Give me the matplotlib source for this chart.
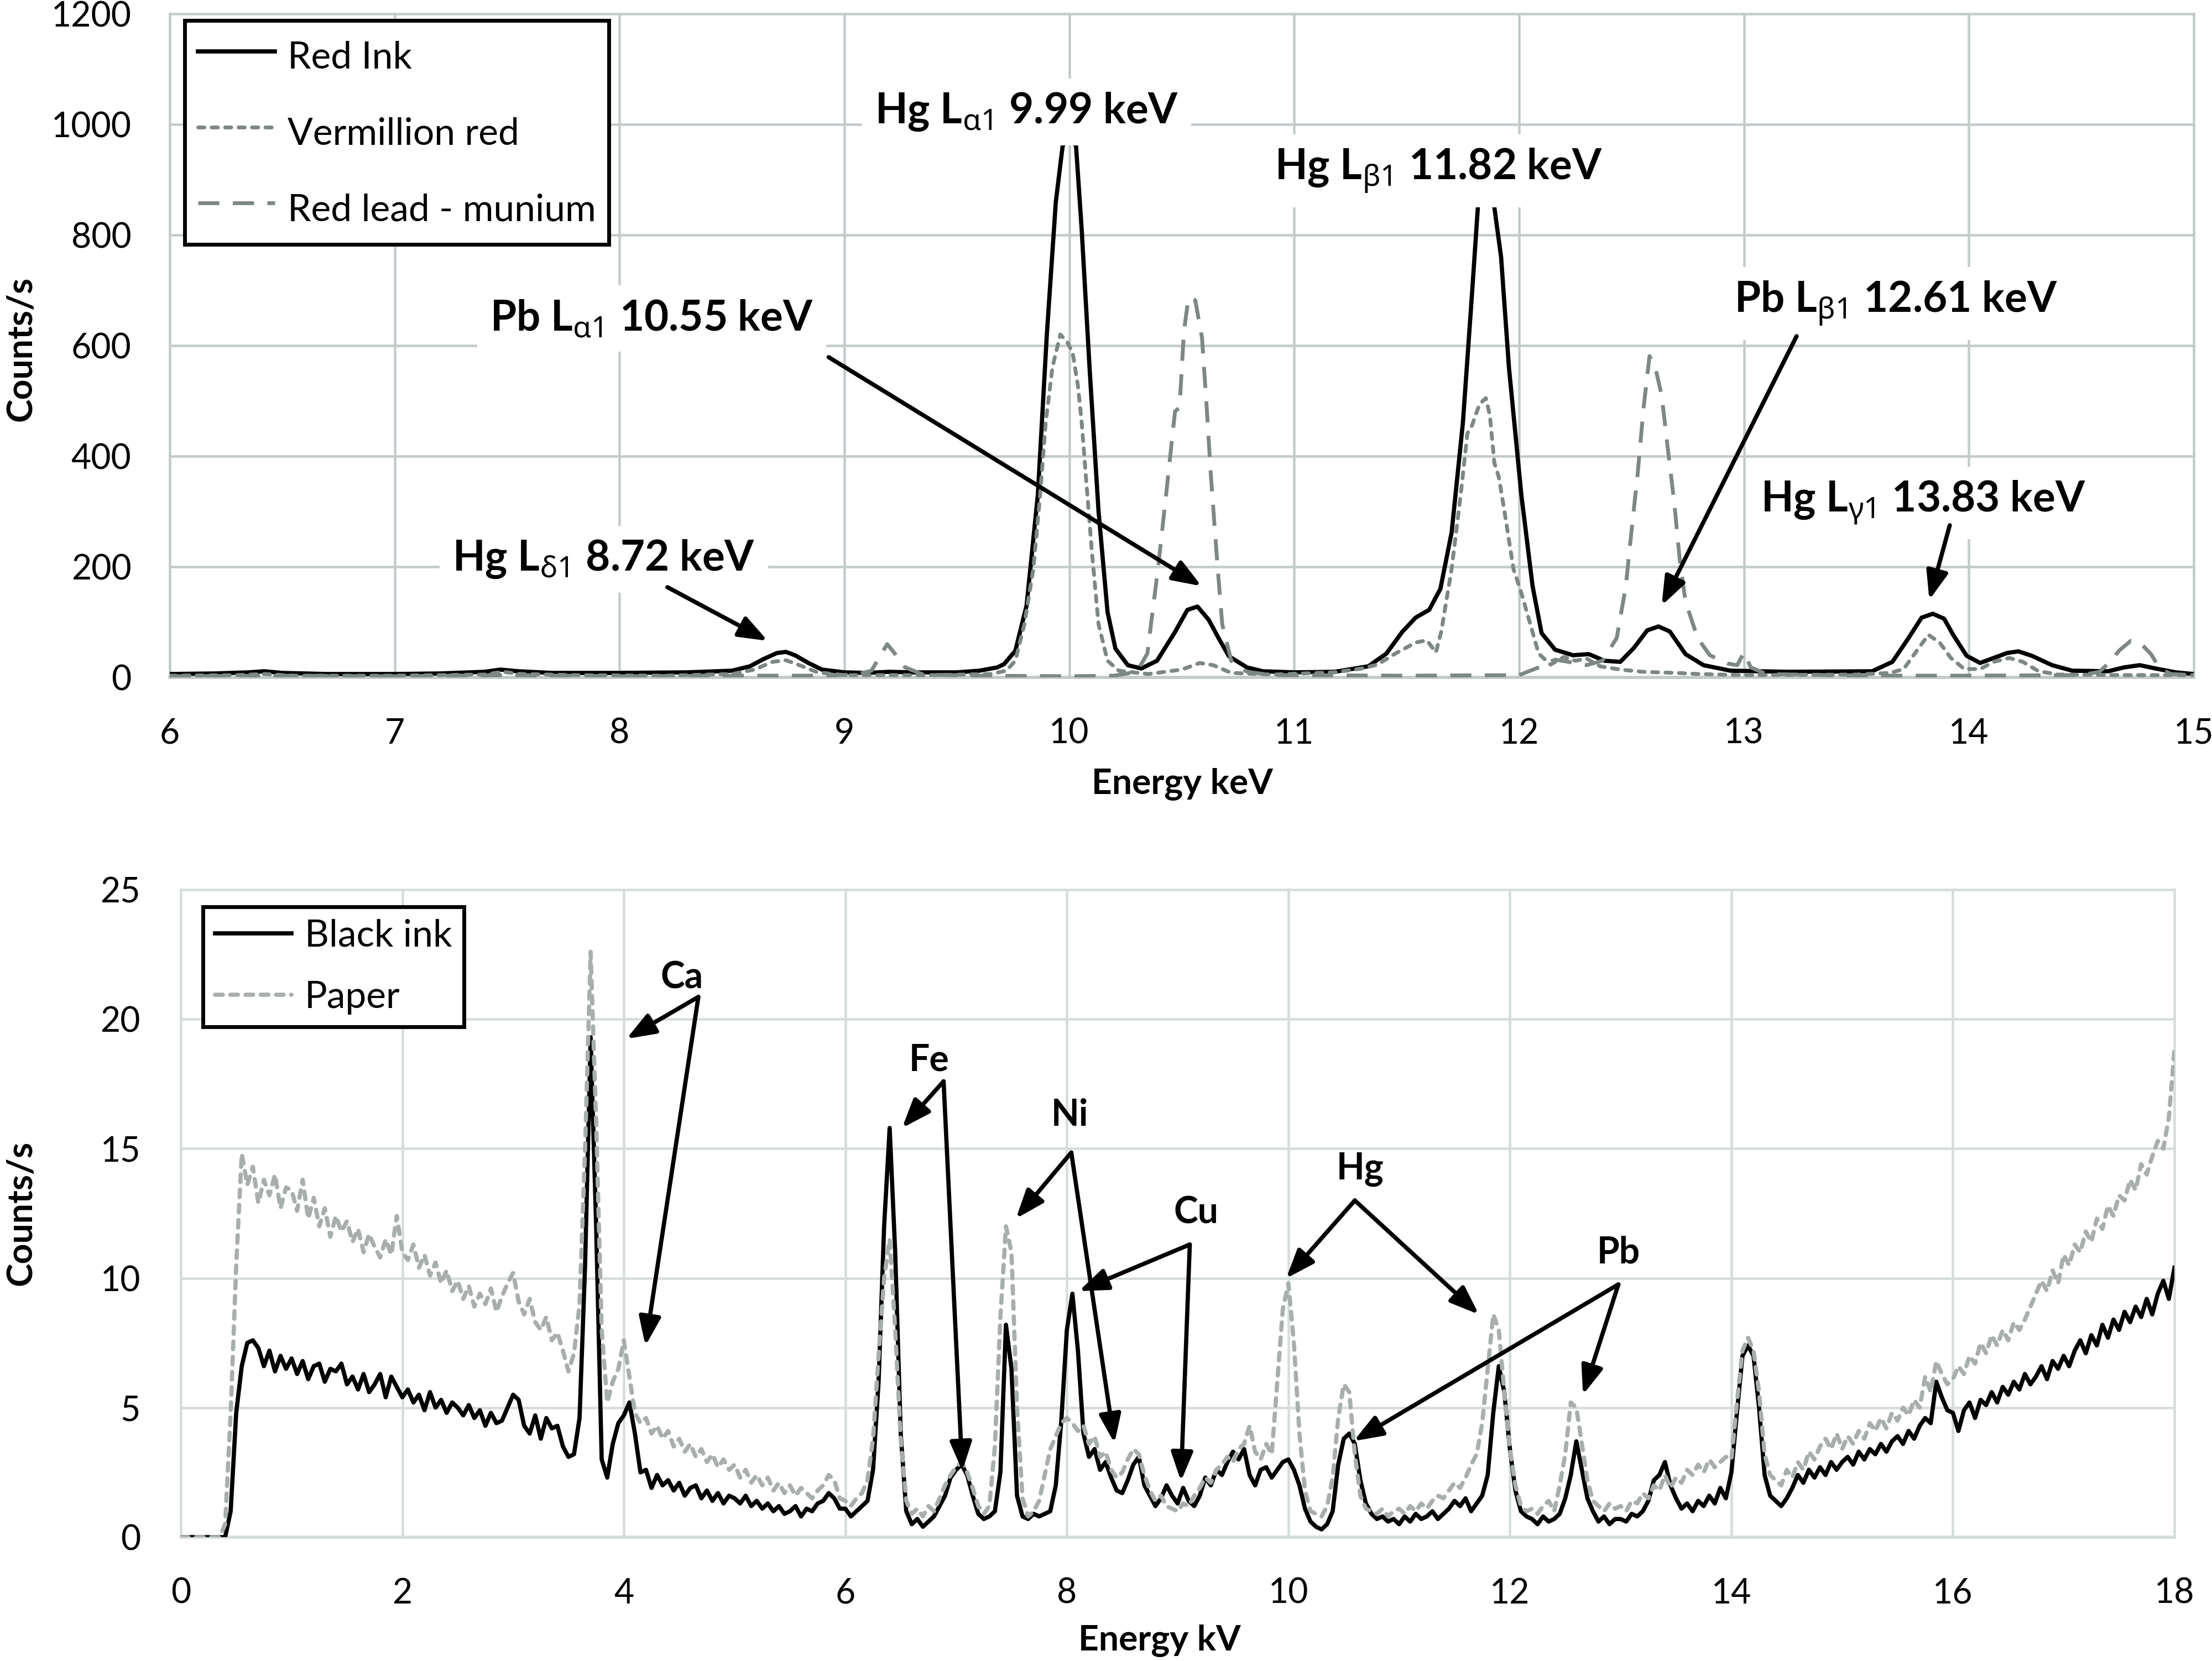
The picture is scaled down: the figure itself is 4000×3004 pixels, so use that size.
import numpy as np
import matplotlib.pyplot as plt
from matplotlib.lines import Line2D

plt.rcParams['font.family'] = ['Lato', 'DejaVu Sans']
plt.rcParams['mathtext.fontset'] = 'custom'
plt.rcParams['mathtext.bf'] = 'Noto Sans:bold'
plt.rcParams['mathtext.rm'] = 'Noto Sans'
plt.rcParams['mathtext.it'] = 'Noto Sans:italic'

# ---------------- top spectrum: red pigments (keV, counts/s) ----------------
red_ink_x = [6.00, 6.20, 6.35, 6.42, 6.50, 6.70, 7.00, 7.20, 7.40, 7.47, 7.55, 7.70, 8.00, 8.30,
             8.50, 8.58, 8.64, 8.70, 8.74, 8.78, 8.84, 8.90, 9.00, 9.10, 9.20, 9.30, 9.50, 9.60,
             9.68, 9.71, 9.76, 9.81, 9.86, 9.90, 9.94, 9.97, 10.00, 10.03, 10.055, 10.09, 10.13,
             10.17, 10.205, 10.26, 10.32, 10.39, 10.47, 10.525, 10.57, 10.62, 10.665, 10.71, 10.79,
             10.86, 11.00, 11.18, 11.33, 11.41, 11.48, 11.54, 11.60, 11.65, 11.70, 11.75, 11.79,
             11.82, 11.85, 11.88, 11.92, 11.955, 12.01, 12.06, 12.10, 12.16, 12.24, 12.31, 12.38,
             12.45, 12.51, 12.57, 12.62, 12.67, 12.74, 12.82, 12.94, 13.20, 13.57, 13.66, 13.73,
             13.79, 13.84, 13.89, 13.93, 13.99, 14.05, 14.11, 14.17, 14.22, 14.28, 14.37, 14.46,
             14.62, 14.69, 14.76, 14.83, 14.92, 15.00]
red_ink_y = [6, 7, 9, 11, 8, 6, 6, 7, 10, 14, 11, 8, 8, 9,
             12, 20, 33, 44, 46, 40, 26, 14, 9, 8, 10, 9, 9, 12,
             18, 24, 48, 130, 330, 620, 860, 960, 988, 960, 810, 560, 300,
             118, 52, 22, 16, 30, 82, 122, 128, 104, 70, 38, 18,
             11, 9, 10, 20, 43, 82, 108, 122, 160, 262, 460, 690,
             870, 935, 880, 760, 560, 330, 165, 80, 50, 40, 42, 30,
             28, 53, 85, 92, 83, 42, 22, 12, 10, 11, 28, 70,
             108, 115, 106, 77, 39, 26, 35, 44, 47, 39, 22, 12,
             11, 18, 22, 16, 9, 6]

vermillion_x = [6.00, 6.30, 6.42, 6.55, 7.00, 7.40, 7.48, 7.56, 7.80, 8.20, 8.50, 8.60, 8.68, 8.74,
                8.80, 8.88, 9.00, 9.40, 9.65, 9.72, 9.76, 9.80, 9.84, 9.87, 9.895, 9.925, 9.96,
                9.99, 10.015, 10.038, 10.055, 10.074, 10.10, 10.13, 10.17, 10.22, 10.35, 10.50,
                10.58, 10.64, 10.72, 10.90, 11.18, 11.30, 11.37, 11.45, 11.54, 11.59, 11.63, 11.654,
                11.70, 11.74, 11.77, 11.79, 11.824, 11.852, 11.87, 11.89, 11.91, 11.937, 11.975,
                12.012, 12.05, 12.087, 12.14, 12.20, 12.25, 12.30, 12.36, 12.45, 12.55, 12.70,
                12.80, 13.00, 13.50, 13.65, 13.71, 13.77, 13.82, 13.87, 13.92, 13.98, 14.05, 14.11,
                14.18, 14.24, 14.31, 14.40, 14.70, 15.00]
vermillion_y = [3, 4, 6, 3, 3, 5, 10, 6, 4, 3, 6, 14, 28, 31,
                22, 9, 4, 4, 6, 12, 30, 96, 196, 329, 461, 561, 620,
                607, 587, 528, 461, 362, 229, 96, 30, 12, 6, 14,
                26, 22, 8, 5, 9, 16, 23, 43, 63, 67, 45, 83,
                196, 329, 441, 455, 494, 505, 474, 388, 362, 295, 196,
                150, 96, 43, 23, 37, 30, 34, 20, 14, 10, 8,
                6, 4, 5, 8, 15, 49, 77, 63, 35, 15, 15, 28,
                35, 28, 11, 5, 4, 4]

red_lead_x = [6.00, 6.50, 7.00, 7.50, 8.00, 8.50, 8.90, 9.05, 9.12, 9.19, 9.23, 9.27, 9.35, 9.60,
              10.00, 10.20, 10.30, 10.347, 10.394, 10.43, 10.47, 10.49, 10.51, 10.53, 10.56, 10.59,
              10.61, 10.63, 10.66, 10.68, 10.72, 10.79, 10.90, 11.50, 12.00, 12.10, 12.16, 12.22,
              12.30, 12.37, 12.40, 12.434, 12.474, 12.50, 12.527, 12.554, 12.58, 12.606, 12.634,
              12.66, 12.69, 12.714, 12.74, 12.794, 12.848, 12.927, 12.97, 13.00, 13.03, 13.10,
              13.50, 14.00, 14.50, 14.58, 14.62, 14.67, 14.72, 14.76, 14.81, 14.85, 14.90, 15.00]
red_lead_y = [2, 3, 2, 4, 2, 3, 3, 5, 12, 60, 40, 18, 5, 3,
              2, 3, 10, 43, 196, 329, 481, 488, 627, 687, 682, 614,
              494, 362, 196, 96, 30, 10, 4, 3, 4, 20, 32, 28,
              22, 30, 49, 71, 163, 265, 367, 489, 581, 560, 510,
              418, 316, 214, 137, 71, 40, 25, 22, 45, 18, 6,
              3, 3, 4, 10, 25, 49, 66, 63, 42, 15, 6, 4]

# ---------------- bottom spectrum: black ink vs paper, one value per 0.05 kV ----------------
kv_step = 0.05
black_ink = [
    0, 0, 0, 0, 0, 0, 0, 0, 0, 1.0, 4.8, 6.6, 7.5, 7.6, 7.3, 6.6, 7.2, 6.4, 7.0, 6.5,
    6.9, 6.3, 6.8, 6.1, 6.6, 6.7, 6.0, 6.5, 6.4, 6.7, 5.9, 6.2, 5.7, 6.3, 5.6, 5.9, 6.3, 5.4, 6.2, 5.8,
    5.4, 5.7, 5.2, 5.5, 4.9, 5.6, 5.0, 5.3, 4.8, 5.2, 5.0, 4.7, 5.1, 4.6, 4.9, 4.3, 4.8, 4.4, 4.5, 5.0,
    5.5, 5.3, 4.3, 4.0, 4.7, 3.8, 4.6, 4.2, 4.3, 3.5, 3.1, 3.2, 4.6, 10.5, 19.3, 12.0, 3.0, 2.3, 3.6, 4.4,
    4.7, 5.2, 4.0, 2.5, 2.6, 1.9, 2.4, 2.0, 2.2, 1.8, 2.1, 1.6, 1.9, 2.0, 1.5, 1.8, 1.4, 1.7, 1.3, 1.6,
    1.5, 1.3, 1.6, 1.2, 1.4, 1.1, 1.3, 1.0, 1.2, 0.9, 1.0, 1.2, 0.8, 1.1, 1.0, 1.3, 1.4, 1.7, 1.5, 1.1,
    1.1, 0.8, 1.0, 1.2, 1.4, 2.6, 6.0, 12.0, 15.8, 11.0, 4.0, 1.0, 0.5, 0.7, 0.4, 0.6, 0.8, 1.2, 1.6, 2.3,
    2.6, 2.8, 2.4, 1.6, 0.9, 0.7, 0.8, 1.0, 2.5, 8.2, 6.5, 1.6, 0.8, 0.7, 0.9, 0.8, 0.9, 1.0, 2.0, 4.5,
    8.0, 9.4, 7.2, 4.0, 3.1, 3.4, 2.6, 2.9, 2.3, 1.8, 1.7, 2.2, 2.8, 3.1, 2.0, 1.6, 1.2, 1.5, 2.0, 1.6,
    1.3, 1.9, 1.4, 1.2, 1.6, 2.3, 2.0, 2.6, 2.4, 2.9, 3.3, 3.0, 3.4, 2.4, 2.0, 2.6, 2.7, 2.3, 2.6, 2.9,
    3.0, 2.6, 2.0, 1.1, 0.6, 0.4, 0.3, 0.5, 1.0, 2.8, 3.8, 4.0, 3.6, 2.2, 1.3, 0.9, 0.7, 0.8, 0.6, 0.7,
    0.5, 0.8, 0.6, 0.9, 0.7, 0.8, 1.0, 0.7, 0.9, 1.1, 1.4, 1.2, 1.5, 1.0, 1.3, 1.6, 2.4, 4.8, 6.6, 5.6,
    3.4, 1.8, 1.0, 0.8, 0.7, 0.5, 0.8, 0.6, 0.7, 0.9, 1.5, 2.4, 3.7, 2.6, 1.5, 1.0, 0.6, 0.8, 0.5, 0.7,
    0.7, 0.6, 0.9, 0.8, 1.0, 1.4, 2.2, 2.4, 2.9, 2.0, 1.5, 1.1, 1.3, 1.0, 1.4, 1.2, 1.6, 1.3, 1.9, 1.5,
    2.5, 4.8, 7.0, 7.4, 7.0, 5.0, 2.4, 1.6, 1.4, 1.2, 1.5, 1.9, 2.4, 2.1, 2.6, 2.3, 2.7, 2.4, 2.9, 2.6,
    2.9, 3.1, 2.8, 3.3, 3.0, 3.4, 3.2, 3.6, 3.3, 3.7, 3.9, 3.6, 4.1, 3.8, 4.3, 4.6, 4.4, 6.0, 5.4, 4.9,
    4.8, 4.1, 4.9, 5.2, 4.6, 5.3, 5.1, 5.6, 5.2, 5.8, 5.5, 6.0, 5.7, 6.3, 5.9, 6.2, 6.6, 6.1, 6.8, 6.5,
    7.0, 6.6, 7.2, 7.6, 7.1, 7.8, 7.4, 8.2, 7.7, 8.4, 8.0, 8.7, 8.3, 8.9, 8.5, 9.2, 8.6, 9.4, 9.9, 9.2,
    10.4]
paper = [
    0, 0, 0, 0, 0, 0, 0, 0, 0.5, 4.8, 10.5, 14.8, 13.6, 14.3, 12.9, 13.8, 13.2, 14.0, 12.7, 13.5,
    13.4, 12.6, 13.8, 12.3, 13.1, 12.0, 12.7, 11.6, 12.4, 11.8, 12.2, 11.4, 11.9, 11.0, 11.7, 11.2, 10.8, 11.5, 10.9, 12.4,
    11.0, 10.7, 11.3, 10.4, 10.9, 10.1, 10.6, 9.8, 10.3, 9.5, 9.9, 9.2, 9.7, 8.9, 9.4, 9.0, 9.6, 8.7, 9.3, 9.8,
    10.2, 9.1, 8.6, 9.2, 8.3, 8.0, 8.5, 7.6, 7.9, 7.2, 6.4, 7.1, 9.0, 15.0, 22.6, 16.0, 8.0, 5.2, 6.0, 6.5,
    7.6, 6.2, 4.8, 4.4, 4.6, 4.0, 4.3, 3.8, 4.1, 3.5, 3.8, 3.3, 3.6, 3.1, 3.4, 2.9, 3.2, 2.7, 3.0, 2.6,
    2.8, 2.3, 2.6, 2.1, 2.4, 2.0, 2.3, 1.8, 2.1, 1.7, 2.0, 1.6, 1.9, 1.7, 1.5, 1.8, 2.0, 2.4, 2.2, 1.5,
    1.4, 1.2, 1.5, 1.7, 2.2, 3.8, 7.0, 10.0, 11.5, 8.0, 3.8, 1.4, 0.9, 1.1, 0.8, 1.2, 1.0, 1.5, 2.0, 2.4,
    2.7, 2.9, 2.5, 1.9, 1.2, 0.9, 1.2, 3.5, 8.5, 12.0, 11.0, 5.0, 1.5, 0.8, 1.0, 1.4, 2.4, 3.4, 3.9, 4.4,
    4.6, 4.4, 4.1, 4.3, 3.6, 3.9, 3.1, 3.3, 2.6, 2.3, 2.5, 3.0, 3.4, 3.2, 2.4, 1.8, 1.4, 1.6, 1.2, 1.1,
    1.0, 1.3, 1.2, 1.6, 1.9, 2.3, 2.1, 2.6, 2.8, 3.1, 2.9, 3.4, 3.6, 4.3, 3.3, 3.0, 3.6, 3.2, 6.0, 8.8,
    9.8, 7.5, 4.0, 1.8, 1.0, 0.9, 0.8, 1.2, 2.3, 4.6, 5.9, 5.6, 3.2, 1.6, 1.1, 1.0, 0.9, 1.1, 0.8, 1.0,
    1.1, 0.9, 1.2, 1.0, 1.3, 1.1, 1.4, 1.6, 1.5, 1.8, 2.1, 1.9, 2.3, 2.8, 3.2, 4.4, 6.5, 8.6, 8.0, 5.6,
    3.4, 2.0, 1.2, 1.0, 1.1, 0.9, 1.2, 1.4, 1.0, 2.0, 3.2, 5.2, 5.0, 3.6, 2.2, 1.4, 1.2, 1.0, 1.3, 1.1,
    1.2, 1.0, 1.4, 1.3, 1.7, 1.5, 2.0, 1.8, 2.4, 1.9, 2.3, 2.1, 2.6, 2.4, 2.8, 2.5, 3.0, 2.7, 2.9, 3.1,
    3.0, 5.2, 7.2, 7.7, 7.2, 5.6, 3.2, 2.4, 2.2, 2.0, 2.6, 2.3, 2.9, 2.6, 3.3, 3.0, 3.5, 3.8, 3.4, 4.0,
    3.4, 3.9, 3.6, 4.1, 3.8, 4.4, 4.1, 4.6, 4.2, 4.8, 4.5, 5.0, 4.7, 5.3, 5.0, 6.2, 5.6, 6.8, 6.3, 5.9,
    6.1, 6.6, 6.3, 7.0, 6.7, 7.5, 7.1, 7.8, 7.4, 8.0, 7.6, 8.3, 8.0, 8.4, 8.9, 9.4, 9.9, 9.5, 10.3, 9.8,
    10.9, 10.5, 11.3, 11.0, 11.8, 11.4, 12.3, 11.9, 12.8, 12.4, 13.2, 13.0, 13.8, 13.4, 14.4, 14.0, 14.7, 15.3, 15.0, 16.2,
    18.8]
energy_kv = np.arange(len(black_ink)) * kv_step

top_ticks_x = list(range(6, 16))
top_ticks_y = list(range(0, 1201, 200))
bot_ticks_x = list(range(0, 19, 2))
bot_ticks_y = list(range(0, 26, 5))

# annotation text: (label, x, baseline y)
top_labels = [
    (r'Hg L$_{\mathbf{α1}}\;$9.99 keV', 9.81, 1002),
    (r'Hg L$_{\mathbf{β1}}\;$11.82 keV', 11.643, 900),
    (r'Pb L$_{\mathbf{α1}}\;$10.55 keV', 8.142, 627),
    (r'Hg L$_{\mathbf{δ1}}\;$8.72 keV', 7.93, 193),
    (r'Pb L$_{\mathbf{β1}}\;$12.61 keV', 13.674, 660),
    (r'Hg L$_{\mathbf{γ1}}\;$13.83 keV', 13.797, 299),
]
# arrows: (start, tip)
top_arrows = [
    ((8.213, 163), (8.659, 66)),
    ((8.93, 579), (10.588, 165)),
    ((13.234, 617), (12.634, 130)),
    ((13.915, 275), (13.824, 140)),
]
bot_labels = [('Ca', 4.524, 21.19), ('Fe', 6.757, 18.0), ('Ni', 8.026, 15.88),
              ('Cu', 9.166, 12.11), ('Hg', 10.65, 13.83), ('Pb', 12.98, 10.57)]
bot_arrows = [
    ((4.673, 20.86), [(4.023, 19.24), (4.195, 7.39)]),
    ((6.887, 17.6), [(6.512, 15.8), (7.056, 2.56)]),
    ((8.04, 14.85), [(7.54, 12.3), (8.43, 3.63)]),
    ((9.11, 11.3), [(8.108, 9.5), (9.03, 2.16)]),
    ((10.60, 13.0), [(9.98, 9.99), (11.72, 8.6)]),
    ((12.98, 9.76), [(10.59, 3.71), (12.66, 5.5)]),
]

W, H = 4000, 3004
fig = plt.figure(figsize=(W / 250, H / 250), dpi=250)
ax1 = fig.add_axes([307 / W, 1 - 1225 / H, 3660 / W, 1200 / H])
ax2 = fig.add_axes([327 / W, 1 - 2780 / H, 3605 / W, 1171 / H])

gray_top = '#7D8786'
gray_paper = '#A8AEAD'
arrow_style = dict(arrowstyle='-|>,head_length=0.45,head_width=0.17', color='black',
                   lw=2.2, mutation_scale=28, shrinkA=0, shrinkB=0)


def style_axes(ax, grid_color, xpad, ypad):
    for s in ['top', 'right', 'left']:
        ax.spines[s].set_visible(False)
    ax.spines['bottom'].set_color(grid_color)
    ax.spines['bottom'].set_linewidth(1.6)
    ax.grid(True, color=grid_color, lw=1.3)
    ax.set_axisbelow(True)
    for gl in ax.get_xgridlines() + ax.get_ygridlines():
        gl.set_clip_on(False)
    ax.tick_params(axis='both', length=0, labelsize=18, colors='black')
    ax.tick_params(axis='x', pad=xpad)
    ax.tick_params(axis='y', pad=ypad)


# ---- top chart ----
ax1.plot(red_ink_x, red_ink_y, color='black', lw=2.2, zorder=3)
ax1.plot(vermillion_x, vermillion_y, color=gray_top, lw=2.0, dashes=(1.6, 1.9),
         dash_capstyle='round', zorder=3)
ax1.plot(red_lead_x, red_lead_y, color=gray_top, lw=2.0, dashes=(5.5, 3.5), zorder=3)
ax1.set_xlim(6, 15)
ax1.set_ylim(0, 1200)
ax1.set_xticks(top_ticks_x)
ax1.set_yticks(top_ticks_y)
style_axes(ax1, '#C3CBC9', 21, 20)

h1 = [Line2D([], [], color='black', lw=2.2),
      Line2D([], [], color=gray_top, lw=2.0, dashes=(1.6, 1.9), dash_capstyle='round'),
      Line2D([], [], color=gray_top, lw=2.0, dashes=(5.5, 3.5))]
leg1 = ax1.legend(h1, ['Red Ink', 'Vermillion red', 'Red lead - munium'], loc='upper left',
                  bbox_to_anchor=(0.0074, 0.99), fontsize=19.5, frameon=True, fancybox=False,
                  framealpha=1, edgecolor='black', borderpad=0.35, labelspacing=0.81,
                  handlelength=2.05, handleheight=1.5, handletextpad=0.34, borderaxespad=0)
leg1.get_frame().set_linewidth(2.0)
leg1.set_zorder(10)

for txt, x, y in top_labels:
    ax1.text(x, y, txt, ha='center', va='baseline', fontsize=22, fontweight='bold', zorder=6,
             bbox=dict(boxstyle='square,pad=0.3', fc='white', ec='none'))
for start, tip in top_arrows:
    ax1.annotate('', xy=tip, xytext=start, arrowprops=arrow_style, zorder=7)

# ---- bottom chart ----
ax2.plot(energy_kv, black_ink, color='black', lw=2.2, zorder=3)
ax2.plot(energy_kv, paper, color=gray_paper, lw=2.2, dashes=(1.8, 1.8),
         dash_capstyle='round', zorder=3)
ax2.set_xlim(0, 18)
ax2.set_ylim(0, 25)
ax2.set_xticks(bot_ticks_x)
ax2.set_yticks(bot_ticks_y)
style_axes(ax2, '#D6DCDB', 21, 21)

h2 = [Line2D([], [], color='black', lw=2.2),
      Line2D([], [], color=gray_paper, lw=2.2, dashes=(1.8, 1.8), dash_capstyle='round')]
leg2 = ax2.legend(h2, ['Black ink', 'Paper'], loc='upper left', bbox_to_anchor=(0.0111, 0.9735),
                  fontsize=19.5, frameon=True, fancybox=False, framealpha=1, edgecolor='black',
                  borderpad=0.32, labelspacing=0.73, handlelength=2.05, handletextpad=0.34,
                  borderaxespad=0)
leg2.get_frame().set_linewidth(2.0)
leg2.set_zorder(10)

for txt, x, y in bot_labels:
    ax2.text(x, y, txt, ha='center', va='baseline', fontsize=19, fontweight='bold', zorder=6)
for start, tips in bot_arrows:
    for tip in tips:
        ax2.annotate('', xy=tip, xytext=start, arrowprops=arrow_style, zorder=7)

# axis titles
fig.text(2138 / W, 1 - 1418 / H, 'Energy keV', ha='center', va='center', fontsize=18.5,
         fontweight='bold')
fig.text(2097 / W, 1 - 2967 / H, 'Energy kV', ha='center', va='center', fontsize=18.5,
         fontweight='bold')
fig.text(38 / W, 1 - 631 / H, 'Counts/s', ha='center', va='center', rotation=90,
         fontsize=18.5, fontweight='bold')
fig.text(38 / W, 1 - 2194 / H, 'Counts/s', ha='center', va='center', rotation=90,
         fontsize=18.5, fontweight='bold')

fig.savefig('out.png', dpi=250, facecolor='white')
